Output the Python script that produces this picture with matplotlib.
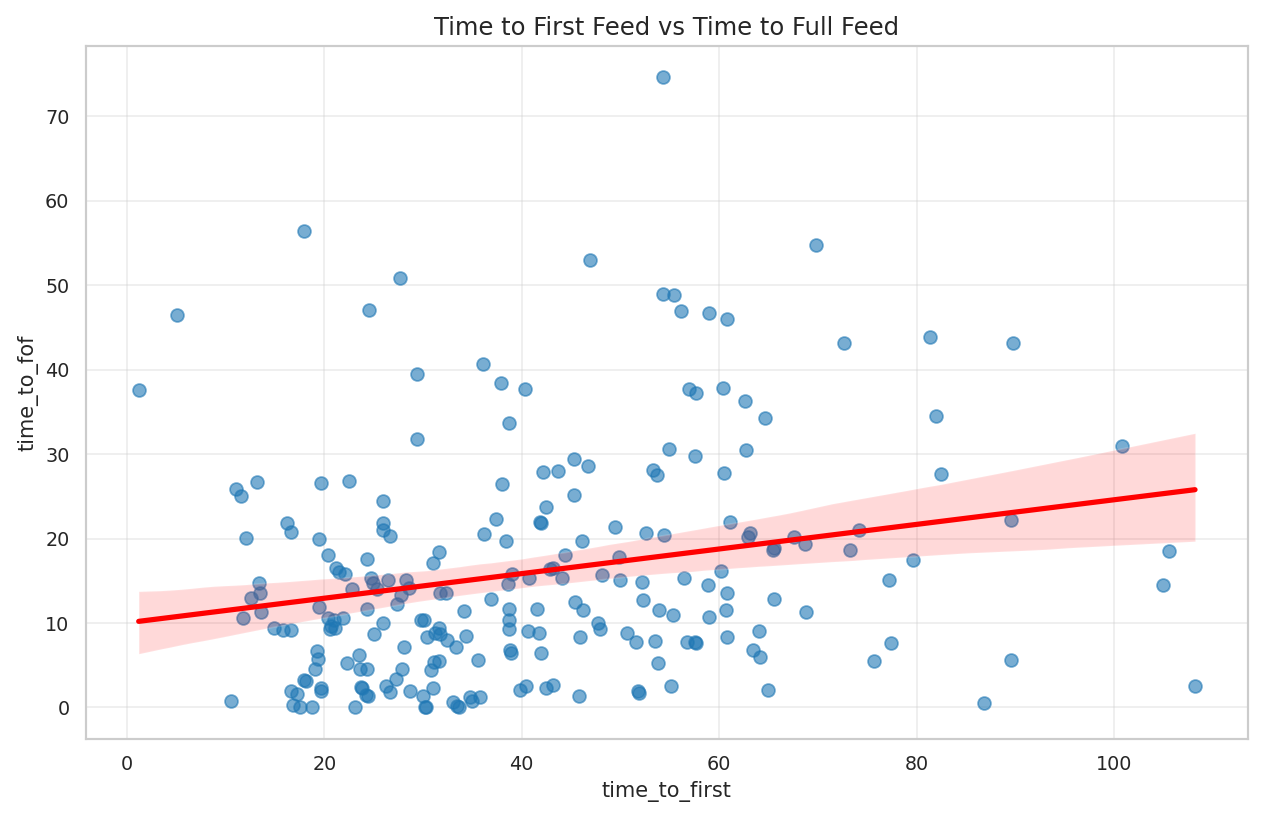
import numpy as np
import matplotlib
matplotlib.use("Agg")
import matplotlib.pyplot as plt
import seaborn as sns
import pandas as pd

time_to_first = [
    1.2, 5.1, 10.6, 11.1, 11.6, 12.1, 11.8, 12.6, 13.2, 13.4, 13.5, 13.6, 14.9, 15.8,
    16.2, 16.6, 16.6, 16.6, 16.8, 17.2, 17.5, 17.9, 17.9, 18.1, 18.8, 19.1, 19.3, 19.4,
    19.5, 19.5, 19.7, 19.7, 19.7, 20.4, 20.4, 20.6, 20.7, 21.0, 21.1, 21.2, 21.5, 21.9,
    22.1, 22.3, 22.5, 22.8, 23.1, 23.5, 23.6, 23.7, 23.8, 24.2, 24.3, 24.3, 24.3, 24.4,
    24.5, 24.7, 24.9, 25.0, 25.3, 25.9, 25.9, 25.9, 25.9, 26.2, 26.5, 26.7, 26.7, 27.3,
    27.4, 27.7, 27.8, 27.9, 28.1, 28.3, 28.6, 28.7, 29.4, 29.4, 29.8, 30.0, 30.1, 30.2,
    30.3, 30.4, 30.8, 31.0, 31.0, 31.1, 31.2, 31.6, 31.6, 31.6, 31.7, 31.7, 32.3, 32.4,
    33.0, 33.3, 33.4, 33.6, 34.2, 34.4, 34.8, 35.0, 35.6, 35.8, 36.1, 36.2, 36.9, 37.4,
    37.9, 38.0, 38.4, 38.6, 38.7, 38.7, 38.7, 38.7, 38.8, 38.9, 39.0, 39.8, 40.3, 40.4,
    40.6, 40.7, 41.5, 41.7, 41.8, 42.0, 42.0, 42.2, 42.5, 42.5, 42.9, 43.2, 43.2, 43.7,
    44.1, 44.4, 45.3, 45.3, 45.4, 45.8, 45.9, 46.1, 46.2, 46.7, 46.9, 47.7, 47.9, 48.1,
    49.4, 49.9, 50.0, 50.7, 51.6, 51.8, 51.9, 52.2, 52.3, 52.6, 53.3, 53.5, 53.7, 53.8,
    53.9, 54.3, 54.3, 54.4, 54.9, 55.1, 55.3, 55.4, 56.1, 56.4, 56.7, 56.9, 57.5, 57.6,
    57.7, 57.7, 58.9, 59.0, 59.0, 60.2, 60.4, 60.5, 60.7, 60.8, 60.8, 60.8, 61.1, 62.6,
    62.7, 62.9, 63.1, 63.4, 64.0, 64.1, 64.6, 64.9, 65.5, 65.6, 65.6, 67.6, 68.7, 68.8,
    69.8, 72.6, 73.3, 74.2, 75.7, 77.2, 77.4, 79.6, 81.4, 82.0, 82.5, 86.8, 89.6, 89.6,
    89.8, 100.8, 105.0, 105.6, 108.2,
]

time_to_fof = [
    37.6, 46.5, 0.8, 25.9, 25.0, 20.1, 10.6, 13.0, 26.7, 14.7, 13.6, 11.3, 9.4, 9.2,
    21.8, 20.8, 9.2, 2.0, 0.3, 1.6, 0.0, 56.4, 3.2, 3.1, 0.0, 4.6, 6.7, 5.7,
    20.0, 11.9, 26.6, 2.3, 1.9, 18.0, 10.6, 9.3, 9.6, 10.3, 9.4, 16.5, 16.0, 10.6,
    15.8, 5.3, 26.8, 14.0, 0.0, 6.2, 4.6, 2.4, 2.3, 1.5, 4.5, 11.6, 17.6, 1.4,
    47.1, 15.3, 14.7, 8.7, 14.0, 24.4, 21.8, 21.0, 10.0, 2.5, 15.1, 1.8, 20.3, 3.4,
    12.3, 50.9, 13.3, 4.6, 7.1, 15.1, 14.2, 1.9, 39.5, 31.8, 10.4, 1.4, 10.3, 0.0,
    0.0, 8.4, 4.4, 17.1, 2.3, 5.4, 8.8, 5.5, 18.4, 9.4, 8.7, 13.6, 13.6, 8.0,
    0.6, 7.2, 0.2, 0.0, 11.4, 8.5, 1.2, 0.8, 5.6, 1.2, 40.7, 20.5, 12.8, 22.3,
    38.4, 26.5, 19.7, 14.6, 33.7, 9.3, 11.6, 10.4, 6.8, 6.4, 15.8, 2.1, 37.7, 2.5,
    9.1, 15.3, 11.7, 8.8, 21.9, 21.8, 6.4, 27.9, 23.7, 2.3, 16.4, 2.7, 16.5, 28.0,
    15.3, 18.0, 29.4, 25.1, 12.5, 1.3, 8.4, 19.7, 11.5, 28.6, 53.0, 10.0, 9.3, 15.7,
    21.4, 17.8, 15.1, 8.8, 7.8, 1.9, 1.7, 14.8, 12.7, 20.6, 28.1, 7.9, 27.5, 5.3,
    11.5, 74.6, 48.9, 20.4, 30.6, 2.6, 10.9, 48.8, 46.9, 15.3, 7.8, 37.7, 29.8, 7.8,
    7.6, 37.2, 14.5, 46.7, 10.7, 16.1, 37.8, 27.8, 11.5, 8.3, 46.0, 13.5, 21.9, 36.3,
    30.5, 20.2, 20.6, 6.8, 9.0, 6.0, 34.3, 2.1, 18.6, 18.9, 12.9, 20.2, 19.3, 11.3,
    54.7, 43.1, 18.7, 21.0, 5.5, 15.1, 7.6, 17.4, 43.9, 34.5, 27.6, 0.5, 22.2, 5.6,
    43.1, 31.0, 14.5, 18.5, 2.6,
]

df = pd.DataFrame({"time_to_first": time_to_first, "time_to_fof": time_to_fof})

sns.set_theme(style="whitegrid")
fig, ax = plt.subplots(figsize=(10.104, 6.544), dpi=125)
sns.regplot(
    data=df, x="time_to_first", y="time_to_fof", ax=ax, seed=0,
    scatter_kws={"alpha": 0.6, "s": 55, "color": "#1f77b4"},
    line_kws={"color": "red", "linewidth": 3},
)
ax.set_title("Time to First Feed vs Time to Full Feed", fontsize=14)
ax.grid(True, alpha=0.35)
fig.subplots_adjust(left=0.068, right=0.988, top=0.944, bottom=0.0966)
fig.savefig("out.png", dpi=125)
